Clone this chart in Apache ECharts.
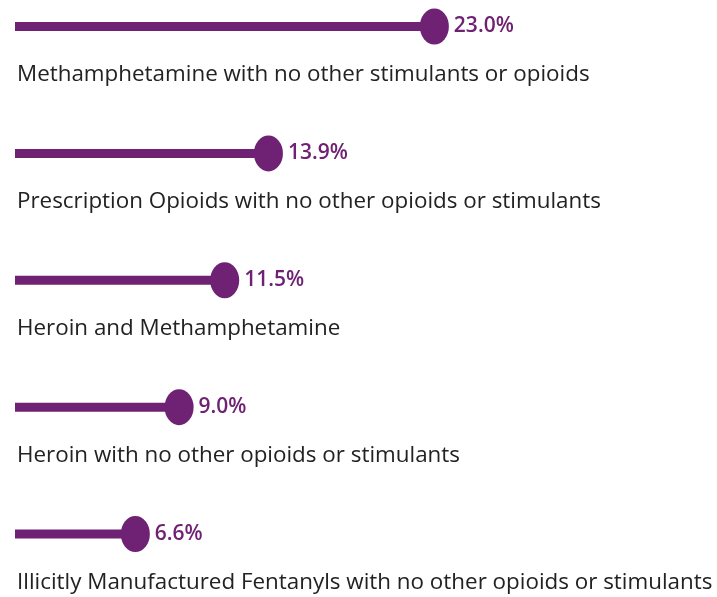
<!DOCTYPE html>
<html>
<head>
<meta charset="utf-8">
<script src="https://cdn.jsdelivr.net/npm/echarts@6/dist/echarts.min.js"></script>
<style>
  html, body {margin: 0; padding: 0; background: #fff;}
  #main {width: 717px; height: 597px;}
</style>
</head>
<body>
<div id="main"></div>
<script>
// categories, top to bottom
const categories = [
    'Methamphetamine with no other stimulants or opioids',
    'Prescription Opioids with no other opioids or stimulants',
    'Heroin and Methamphetamine',
    'Heroin with no other opioids or stimulants',
    'Illicitly Manufactured Fentanyls with no other opioids or stimulants'
];
// percent of deaths
const values = [23.0, 13.9, 11.5, 9.0, 6.6];

const purple = '#6f2173';

let chart = echarts.init(document.getElementById('main'));
chart.setOption({
    animation: false,
    grid: {left: 15, right: 155, top: 26.5, bottom: 63},
    xAxis: {type: 'value', min: 0, max: 30, show: false},
    yAxis: {type: 'category', data: categories, inverse: true, boundaryGap: false, show: false},
    series: [
        {
            type: 'bar',
            data: values,
            barWidth: 9,
            itemStyle: {color: purple},
            label: {
                show: true,
                formatter: '{b}',
                position: [2, 53],
                verticalAlign: 'middle',
                fontFamily: 'Open Sans',
                fontSize: 22.4,
                color: '#222'
            },
            z: 2
        },
        {
            type: 'scatter',
            data: values,
            symbol: 'circle',
            symbolSize: [29, 36],
            itemStyle: {color: purple, opacity: 1},
            label: {
                show: true,
                position: 'right',
                distance: 5,
                formatter: p => p.value.toFixed(1) + '%',
                fontFamily: 'Open Sans',
                fontWeight: 600,
                fontSize: 21,
                color: purple
            },
            z: 3
        }
    ]
});
</script>
</body>
</html>
